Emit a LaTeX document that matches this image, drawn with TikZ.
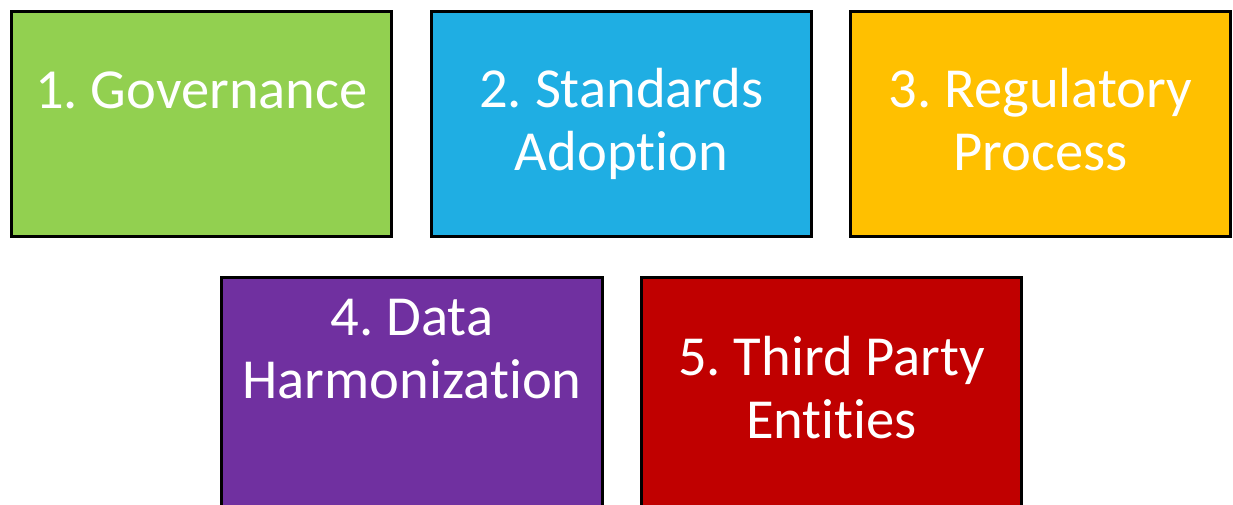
\documentclass[tikz,border=0pt]{standalone}
\usepackage{fontspec}
\setmainfont{Carlito}[Ligatures=NoCommon]
\frenchspacing

\definecolor{govgreen}{RGB}{146,208,80}
\definecolor{stdblue}{RGB}{31,174,227}
\definecolor{regorange}{RGB}{255,192,0}
\definecolor{datapurple}{RGB}{112,48,160}
\definecolor{thirdred}{RGB}{192,0,0}

\tikzset{
  box/.style={draw=black, line width=1.7pt, minimum width=7.62cm, minimum height=4.52cm, inner sep=0pt},
  boxtext/.style={text=white, align=center, anchor=base, font=\fontsize{32.2}{35.3}\selectfont},
}

\begin{document}
\begin{tikzpicture}[x=0.02cm, y=-0.02cm]
\useasboundingbox (0,0) rectangle (1233,504);
\clip (0,0) rectangle (1233,504);

% top row
\node[box, fill=govgreen] (gov) at (201.5,124) {};
\node[box, fill=stdblue] (std) at (621.5,124) {};
\node[box, fill=regorange] (reg) at (1040.5,124) {};

% bottom row, cut off at the lower edge
\node[box, minimum height=4.8cm, fill=datapurple] (data) at (412,397) {};
\node[box, minimum height=4.8cm, fill=thirdred] (third) at (831.5,397) {};

\node[boxtext] (govtext) at (201.5,108) {1. Governance};
\node[boxtext] (stdtext) at (621.5,170) {2. Standards\\Adoption};
\node[boxtext] (regtext) at (1040.5,170) {3. Regulatory\\Process};
\node[boxtext] (datatext) at (412,398) {4. Data\\Harmonization};
\node[boxtext] (thirdtext) at (831.5,438) {5. Third Party\\Entities};
\end{tikzpicture}
\end{document}
